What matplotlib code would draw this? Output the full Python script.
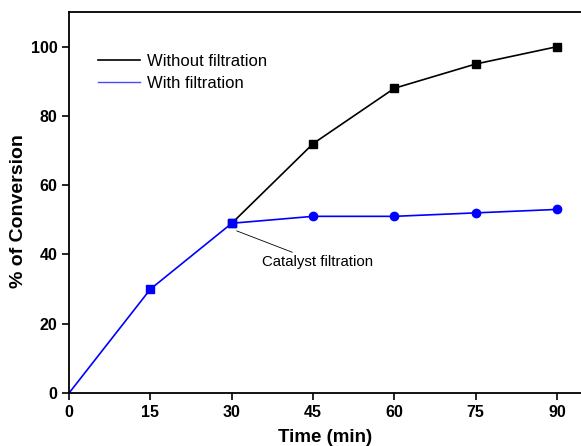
import matplotlib
matplotlib.use("Agg")
import matplotlib.pyplot as plt
from matplotlib.lines import Line2D

plt.rcParams["font.family"] = ["Liberation Sans", "DejaVu Sans"]

time_min = [0, 15, 30, 45, 60, 75, 90]
without_filtration = [49, 72, 88, 95, 100]
with_filtration = [0, 30, 49, 51, 51, 52, 53]

fig = plt.figure(figsize=(5.81, 4.46), dpi=100)
ax = fig.add_axes([0.119, 0.119, 0.881, 0.854])

# black curve starts at the filtration point (30 min)
ax.plot(time_min[2:], without_filtration, color="black", lw=1.2,
        marker="s", ms=5.5, zorder=3)
ax.plot(time_min, with_filtration, color="blue", lw=1.2, zorder=2)
ax.plot(time_min[1:3], with_filtration[1:3], ls="none", marker="s",
        ms=5.5, color="blue", zorder=4)
ax.plot(time_min[3:], with_filtration[3:], ls="none", marker="o",
        ms=6, color="blue", zorder=4)

ax.annotate("Catalyst filtration", xy=(30.9, 46.8), xytext=(35.6, 37.8),
            fontsize=10.8, va="center", ha="left",
            arrowprops=dict(arrowstyle="-", color="black", lw=0.6,
                            shrinkA=0, shrinkB=0))

ax.set_xlim(0, 94.4)
ax.set_ylim(0, 110)
ax.set_xticks(time_min)
ax.set_yticks([0, 20, 40, 60, 80, 100])
ax.tick_params(direction="out", length=5, width=1.2, labelsize=11.5)
for lab in ax.get_xticklabels() + ax.get_yticklabels():
    lab.set_fontweight("bold")
for side in ["left", "bottom", "top"]:
    ax.spines[side].set_linewidth(1.3)
ax.spines["right"].set_visible(False)

ax.set_xlabel("Time (min)", fontsize=13.5, fontweight="bold", labelpad=7)
ax.set_ylabel("% of Conversion", fontsize=14, fontweight="bold")
ax.yaxis.set_label_coords(-0.083, 0.478)

handles = [Line2D([], [], color="black", lw=1.2),
           Line2D([], [], color="#4a4aff", lw=1.0)]
ax.legend(handles, ["Without filtration", "With filtration"],
          loc="upper left", bbox_to_anchor=(0.057, 0.889), frameon=False,
          borderaxespad=0, borderpad=0, fontsize=12, handlelength=2.5,
          handletextpad=0.4, labelspacing=0.4)

fig.savefig("out.png", dpi=100)
